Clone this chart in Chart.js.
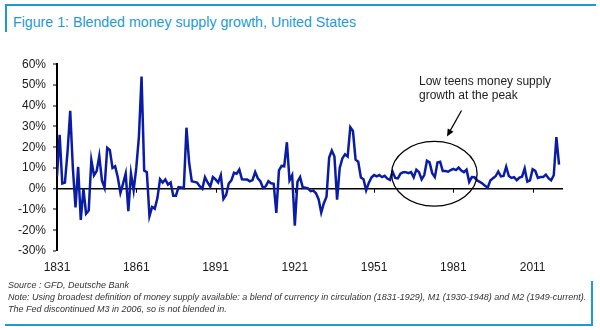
<!DOCTYPE html>
<html>
<head>
<meta charset="utf-8">
<script src="https://cdn.jsdelivr.net/npm/chart.js@4.4.0/dist/chart.umd.min.js"></script>
<style>
  html, body { margin: 0; padding: 0; background: #fff; }
  body { width: 600px; height: 330px; position: relative; overflow: hidden; font-family: "Liberation Sans", Arial, sans-serif; }
  .rule-top  { position: absolute; left: 5px; top: 4px; width: 591px; height: 2px; background: #1d9ad6; }
  .rule-left { position: absolute; left: 5px; top: 4px; width: 2px; height: 28px; background: #1d9ad6; }
  .title { position: absolute; left: 13px; top: 14px; font-size: 14.2px; line-height: 16px; color: #1d9ad6; white-space: nowrap; }
  .plot { position: absolute; left: 0; top: 50px; width: 600px; height: 230px; }
  .notes { position: absolute; left: 8px; top: 279px; font-size: 9px; line-height: 12.2px; font-style: italic; color: #333; white-space: nowrap; }
  .box-right  { position: absolute; left: 591px; top: 281px; width: 2px; height: 45px; background: #1d9ad6; }
  .box-bottom { position: absolute; left: 5px; top: 324px; width: 588px; height: 2px; background: #1d9ad6; }
</style>
</head>
<body>
<div class="rule-top"></div>
<div class="rule-left"></div>
<div class="title">Figure 1: Blended money supply growth, United States</div>
<div class="plot"><canvas id="msChart"></canvas></div>
<div class="notes">
  Source : GFD, Deutsche Bank<br>
  Note: Using broadest definition of money supply available: a blend of currency in circulation (1831-1929), M1 (1930-1948) and M2 (1949-current).<br>
  The Fed discontinued M3 in 2006, so is not blended in.
</div>
<div class="box-right"></div>
<div class="box-bottom"></div>

<script>
/* ── Data: annual growth of the blended money stock, % ───────── */
const firstYear = 1831;
const growthPct = [
  6, 26, 2.5, 3, 18, 37.5, 10, -9, 10.5, -15,              // 1831-1840
  0, -12, -10.5, 13.8, 6.5, 8.5, 15.8, 4, 0.5, 19.7,       // 1841-1850
  18.6, 10, 10.8, 5.5, -2, 2.5, 7.3, -10.8, 7.3, -0.8,     // 1851-1860
  10, 25, 54, 8.8, 8, -13.2, -8.8, -9.6, -4.5, 4.6,        // 1861-1870
  3, 4.5, 2, 3, -3.4, -3.4, 0.8, 0.6, 0.3, 29.4,           // 1871-1880
  12.7, 3.6, 3.3, 3, 1.2, 0, 5.6, 3, 1, 5.6,               // 1881-1890
  4.5, 3, 6.5, -4.9, -3, 2.5, 4, 7.7, 7.2, 9.2,            // 1891-1900
  4.5, 4.4, 4.4, 3.6, 4.2, 8, 5, 3.5, 0.3, 1.2,            // 1901-1910
  3.6, 2.6, 2.4, -11.6, 8.8, 11, 10.8, 22.4, 4, 6.5,       // 1911-1920
  -17.8, 3.3, 5.6, 0.7, 0.5, 0.2, -1.2, -0.9, -2.2, -5,    // 1921-1930
  -11.5, -7, -3.8, 15, 18.4, 15.5, -5.3, 10, 14.6, 16.6,   // 1931-1940
  15.5, 29.6, 27.8, 14, 13, 5.4, 4.6, -0.8, 2.8, 5.4,      // 1941-1950
  6.6, 6, 6.6, 5.6, 6.2, 4.9, 4.2, 8.2, 5.2, 5,            // 1951-1960
  7.3, 8, 8, 7.5, 8, 5.5, 9.2, 8, 4.5, 6.6,                // 1961-1970
  13.5, 12.7, 7.5, 5.6, 12.6, 13, 8.5, 8.5, 8.2, 9,        // 1971-1980
  9.6, 9, 10.2, 8.8, 8, 9.2, 3.3, 5.6, 5.5, 4,             // 1981-1990
  3.3, 2.5, 1.4, 0.5, 4, 5, 6, 8.3, 6, 6.2,                // 1991-2000
  10.6, 6.1, 5.2, 5.6, 4.1, 5.4, 5.8, 9.8, 3.4, 4,         // 2001-2010
  9.4, 8.6, 5.2, 5.6, 5.6, 6.8, 5.1, 4.1, 6.5, 24.9,       // 2011-2020
  11.6                                                     // 2021
];
const years = growthPct.map((_, i) => firstYear + i);

const xTickYears = [1831, 1861, 1891, 1921, 1951, 1981, 2011];
const yTickMin = -30, yTickMax = 60, yTickStep = 10;

const calloutLines = ['Low teens money supply', 'growth at the peak'];

/* ── Callout: ellipse + arrow + text, placed in data units ───── */
const callout = {
  ellipse: { year: 1973.8, pct: 7.2, halfYears: 16.2, halfPct: 15.6 },
  arrow:   { fromYear: 1984.1, fromPct: 37.7, toYear: 1978.6, toPct: 25.2 },
  text:    { year: 1968, pct: 49.9, linePct: 6.7 }
};

const annotationPlugin = {
  id: 'callout',
  afterDatasetsDraw(chart) {
    const { ctx, scales: { x, y } } = chart;
    ctx.save();

    // small tick marks hanging under the zero line
    const y0 = y.getPixelForValue(0);
    ctx.strokeStyle = '#000';
    ctx.lineWidth = 1;
    xTickYears.forEach(yr => {
      const px = Math.round(x.getPixelForValue(yr)) + 0.5;
      ctx.beginPath();
      ctx.moveTo(px, y0);
      ctx.lineTo(px, y0 + 4);
      ctx.stroke();
    });

    // ellipse round the 1960s-80s
    const e = callout.ellipse;
    const cx = x.getPixelForValue(e.year);
    const cy = y.getPixelForValue(e.pct);
    const rx = x.getPixelForValue(e.year + e.halfYears) - cx;
    const ry = cy - y.getPixelForValue(e.pct + e.halfPct);
    ctx.lineWidth = 1.3;
    ctx.beginPath();
    ctx.ellipse(cx, cy, rx, ry, 0, 0, Math.PI * 2);
    ctx.stroke();

    // arrow
    const a = callout.arrow;
    const x1 = x.getPixelForValue(a.fromYear), y1 = y.getPixelForValue(a.fromPct);
    const x2 = x.getPixelForValue(a.toYear),   y2 = y.getPixelForValue(a.toPct);
    const ang = Math.atan2(y2 - y1, x2 - x1);
    const head = 8, spread = 0.42;
    ctx.lineWidth = 1.2;
    ctx.beginPath();
    ctx.moveTo(x1, y1);
    ctx.lineTo(x2 - Math.cos(ang) * head * 0.8, y2 - Math.sin(ang) * head * 0.8);
    ctx.stroke();
    ctx.fillStyle = '#000';
    ctx.beginPath();
    ctx.moveTo(x2, y2);
    ctx.lineTo(x2 - head * Math.cos(ang - spread), y2 - head * Math.sin(ang - spread));
    ctx.lineTo(x2 - head * Math.cos(ang + spread), y2 - head * Math.sin(ang + spread));
    ctx.closePath();
    ctx.fill();

    // label
    const t = callout.text;
    ctx.font = '12px "Liberation Sans", Arial, sans-serif';
    ctx.fillStyle = '#222';
    ctx.textAlign = 'left';
    ctx.textBaseline = 'alphabetic';
    calloutLines.forEach((line, i) => {
      ctx.fillText(line, x.getPixelForValue(t.year), y.getPixelForValue(t.pct - i * t.linePct));
    });

    ctx.restore();
  }
};

new Chart(document.getElementById('msChart'), {
  type: 'line',
  data: {
    datasets: [{
      label: 'Money supply growth',
      data: years.map((yr, i) => ({ x: yr, y: growthPct[i] })),
      borderColor: '#0a1ca6',
      borderWidth: 2.5,
      pointRadius: 0,
      tension: 0,
      fill: false
    }]
  },
  options: {
    responsive: true,
    maintainAspectRatio: false,
    animation: false,
    layout: { padding: { top: 9, right: 37, left: 0, bottom: 0 } },
    plugins: { legend: { display: false }, tooltip: { enabled: false } },
    scales: {
      x: {
        type: 'linear',
        min: firstYear,
        max: 2022.5,
        afterBuildTicks: axis => { axis.ticks = xTickYears.map(value => ({ value })); },
        afterFit: axis => { axis.height = 29; },
        grid: { display: false, drawTicks: false },
        border: { display: false },
        ticks: {
          autoSkip: false,
          maxRotation: 0,
          padding: 9,
          color: '#1a1a1a',
          font: { family: '"Liberation Sans", Arial, sans-serif', size: 12 },
          callback: v => String(v)
        }
      },
      y: {
        min: yTickMin,
        max: yTickMax,
        afterFit: axis => { axis.width = 57; },
        grid: {
          drawOnChartArea: true,
          color: c => (c.tick && c.tick.value === 0 ? '#000' : 'rgba(0,0,0,0)'),
          lineWidth: c => (c.tick && c.tick.value === 0 ? 1.6 : 0),
          tickColor: '#000',
          tickWidth: 1,
          tickLength: 4
        },
        border: { display: true, color: '#000', width: 2 },
        ticks: {
          stepSize: yTickStep,
          padding: 7,
          color: '#1a1a1a',
          font: { family: '"Liberation Sans", Arial, sans-serif', size: 12 },
          callback: v => v + '%'
        }
      }
    }
  },
  plugins: [annotationPlugin]
});
</script>
</body>
</html>
